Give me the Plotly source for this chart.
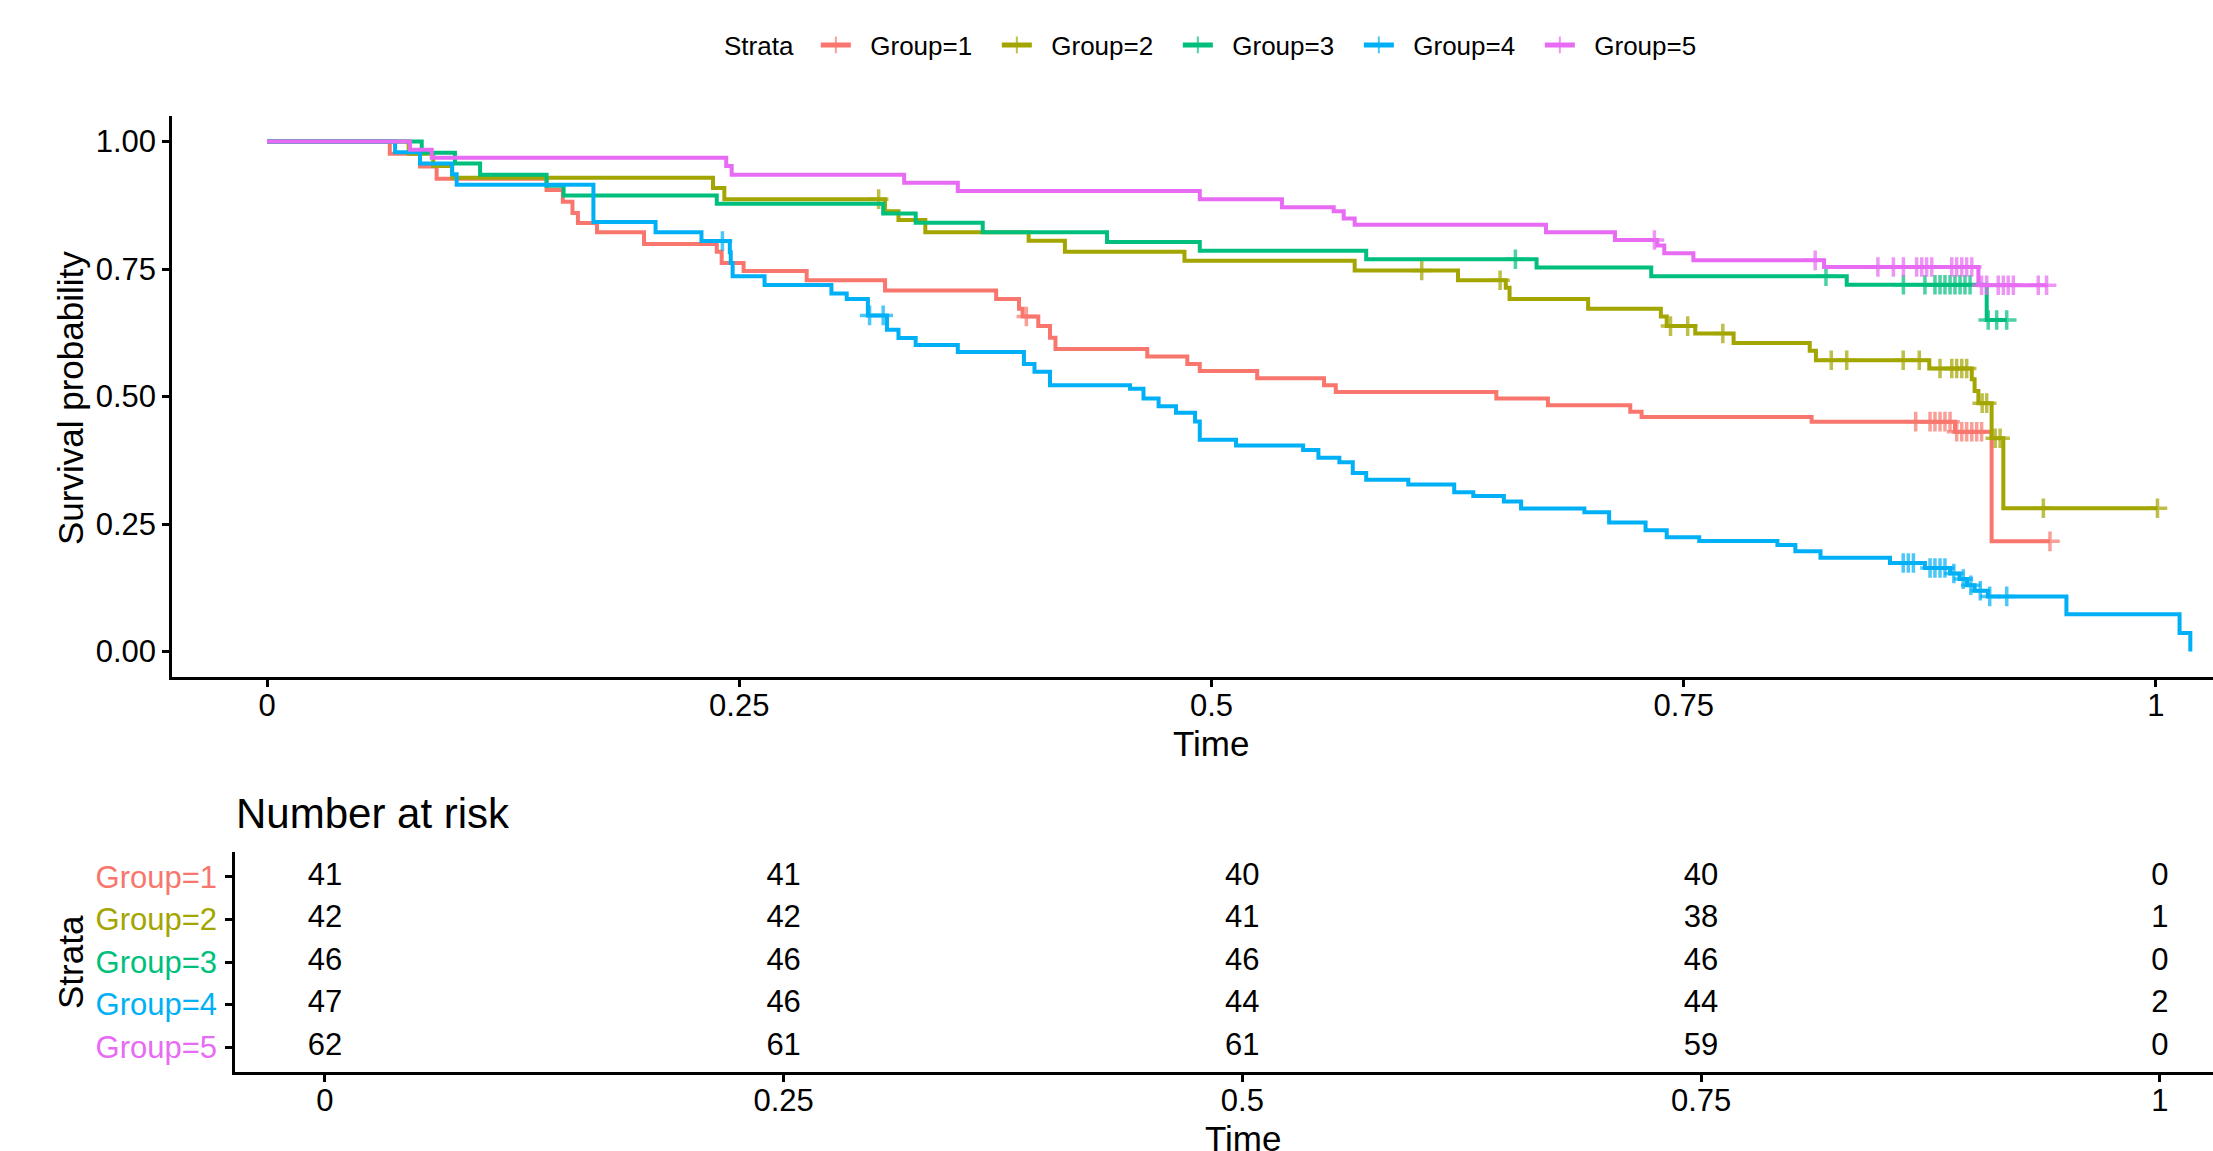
import plotly.graph_objects as go

# ---------------- data ----------------
groups = ["Group=1", "Group=2", "Group=3", "Group=4", "Group=5"]
colors = ["#F8766D", "#A3A500", "#00BF7D", "#00B0F6", "#E76BF3"]

# Kaplan-Meier step curves: event times and survival after each step
g1_times = [0.065, 0.081, 0.0898, 0.148, 0.1566, 0.1617, 0.1646, 0.1747, 0.1996, 0.2381, 0.2407,
            0.2523, 0.2857, 0.3272, 0.386, 0.3981, 0.400, 0.4083, 0.4145, 0.4174, 0.466, 0.4872,
            0.4938, 0.5242, 0.5596, 0.5658, 0.6508, 0.6781, 0.7217, 0.7277, 0.8177, 0.8936, 0.9130]
g1_surv = [0.976, 0.951, 0.927, 0.905, 0.882, 0.860, 0.840, 0.822, 0.799, 0.784, 0.762,
           0.746, 0.728, 0.708, 0.691, 0.672, 0.657, 0.638, 0.615, 0.593, 0.5785, 0.5636,
           0.550, 0.536, 0.522, 0.509, 0.496, 0.483, 0.470, 0.460, 0.4507, 0.431, 0.216]
g1_cens = [0.402, 0.8728, 0.8804, 0.8830, 0.8857, 0.8883, 0.8910, 0.8945, 0.8972, 0.8998,
           0.9025, 0.9051, 0.9077, 0.9439]

g2_times = [0.075, 0.088, 0.098, 0.2361, 0.2421, 0.3272, 0.3343, 0.3485, 0.4032, 0.4224, 0.4857,
            0.5758, 0.6305, 0.6558, 0.6578, 0.6994, 0.7379, 0.741, 0.7561, 0.7764, 0.8167, 0.8200,
            0.8800, 0.9025, 0.9040, 0.9060, 0.9130, 0.9192]
g2_surv = [0.976, 0.952, 0.929, 0.909, 0.887, 0.863, 0.846, 0.822, 0.8055, 0.784, 0.766,
           0.747, 0.728, 0.713, 0.691, 0.672, 0.657, 0.638, 0.6235, 0.6047, 0.5897, 0.571,
           0.555, 0.534, 0.511, 0.487, 0.418, 0.281]
g2_cens = [0.3238, 0.6113, 0.6528, 0.7430, 0.7521, 0.7707, 0.8281, 0.8363, 0.8662, 0.8747,
           0.8857, 0.8919, 0.8945, 0.8972, 0.8998, 0.9080, 0.9104, 0.9149, 0.9175, 0.9404, 1.0008]

g3_times = [0.0819, 0.0995, 0.1128, 0.148, 0.157, 0.2381, 0.3262, 0.3434, 0.3789, 0.4447, 0.4938,
            0.5819, 0.6721, 0.7328, 0.8363, 0.9104]
g3_surv = [0.978, 0.957, 0.935, 0.913, 0.894, 0.878, 0.859, 0.8405, 0.822, 0.803, 0.786,
           0.769, 0.753, 0.736, 0.719, 0.650]
g3_cens = [0.6609, 0.8253, 0.8663, 0.8777, 0.8830, 0.8857, 0.8883, 0.8910, 0.8936, 0.8963,
           0.8989, 0.9016, 0.9112, 0.9157, 0.9210]

g4_times = [0.0678, 0.081, 0.098, 0.1004, 0.1728, 0.2057, 0.2300, 0.2450, 0.2455, 0.2465, 0.2634,
            0.2988, 0.3069, 0.3181, 0.3282, 0.3343, 0.3434, 0.3657, 0.4007, 0.4063, 0.4145, 0.4569,
            0.464, 0.472, 0.4812, 0.4913, 0.4938, 0.513, 0.5485, 0.5566, 0.5677, 0.5748, 0.5819,
            0.6042, 0.6285, 0.6386, 0.6548, 0.6639, 0.6974, 0.7105, 0.7298, 0.741, 0.7582, 0.7996,
            0.8091, 0.8224, 0.8592, 0.8777, 0.8910, 0.8960, 0.9000, 0.9040, 0.9110, 0.9526,
            1.0125, 1.0182]
g4_surv = [0.979, 0.957, 0.936, 0.915, 0.842, 0.822, 0.805, 0.783, 0.762, 0.736, 0.7186,
           0.702, 0.691, 0.659, 0.631, 0.6145, 0.601, 0.5875, 0.5636, 0.5485, 0.5223, 0.515,
           0.496, 0.481, 0.468, 0.451, 0.4153, 0.404, 0.395, 0.380, 0.371, 0.350, 0.3366,
           0.3276, 0.3125, 0.305, 0.294, 0.2804, 0.273, 0.2527, 0.2377, 0.2242, 0.2167, 0.209,
           0.1965, 0.1838, 0.1735, 0.1637, 0.153, 0.142, 0.130, 0.119, 0.108, 0.073,
           0.0365, 0.0]
g4_cens = [0.2411, 0.3190, 0.3262, 0.8662, 0.8689, 0.8716, 0.8804, 0.8830, 0.8857, 0.8883,
           0.8930, 0.8980, 0.9020, 0.9070, 0.9120, 0.9210]

g5_times = [0.0757, 0.0872, 0.2431, 0.2460, 0.3373, 0.3657, 0.4938, 0.5373, 0.5647, 0.5700,
            0.5758, 0.6771, 0.7136, 0.7360, 0.7397, 0.7551, 0.8243, 0.9060]
g5_surv = [0.984, 0.968, 0.952, 0.935, 0.919, 0.903, 0.887, 0.871, 0.863, 0.849,
           0.837, 0.822, 0.807, 0.796, 0.781, 0.767, 0.754, 0.718]
g5_cens = [0.7345, 0.8196, 0.8528, 0.8610, 0.8663, 0.8733, 0.8760, 0.8786, 0.8813, 0.8919,
           0.8945, 0.8972, 0.8998, 0.9025, 0.9077, 0.9104, 0.9165, 0.9192, 0.9218, 0.9245,
           0.9377, 0.9421]

step_times = [g1_times, g2_times, g3_times, g4_times, g5_times]
step_surv = [g1_surv, g2_surv, g3_surv, g4_surv, g5_surv]
censor_times = [g1_cens, g2_cens, g3_cens, g4_cens, g5_cens]

# Number at risk table
risk_times = [0, 0.25, 0.5, 0.75, 1]
risk_g1 = [41, 41, 40, 40, 0]
risk_g2 = [42, 42, 41, 38, 1]
risk_g3 = [46, 46, 46, 46, 0]
risk_g4 = [47, 46, 44, 44, 2]
risk_g5 = [62, 61, 61, 59, 0]
risk_counts = [risk_g1, risk_g2, risk_g3, risk_g4, risk_g5]

x_tickvals = [0, 0.25, 0.5, 0.75, 1]
x_ticktext = ["0", "0.25", "0.5", "0.75", "1"]
y_tickvals = [0, 0.25, 0.5, 0.75, 1]
y_ticktext = ["0.00", "0.25", "0.50", "0.75", "1.00"]

# ---------------- figure ----------------
W, H = 2213, 1151
FONT = "Liberation Sans, Arial, Helvetica, sans-serif"
NBSP = "\u00a0"


def surv_at(times, surv, t):
    val = 1.0
    for ti, si in zip(times, surv):
        if ti <= t:
            val = si
        else:
            break
    return val


fig = go.Figure()

CENSOR_SIZE = 14
for name, col, tt, ss, cc in zip(groups, colors, step_times, step_surv, censor_times):
    pts = [(0.0, 1.0, 0, 0)]
    pts += [(t, s, 0, 0) for t, s in zip(tt, ss)]
    pts += [(c, surv_at(tt, ss, c), CENSOR_SIZE, 1) for c in cc]
    pts.sort(key=lambda p: (p[0], p[3]))
    fig.add_trace(go.Scatter(
        x=[p[0] for p in pts], y=[p[1] for p in pts],
        mode="lines+markers", name=NBSP * 2 + name,
        line=dict(color=col, width=4, shape="hv"),
        marker=dict(symbol="cross-thin", size=[p[2] for p in pts],
                    color=col, line=dict(color=col, width=3.5)),
        xaxis="x", yaxis="y", hoverinfo="x+y+name",
    ))

for name, cnt in zip(groups, risk_counts):
    fig.add_trace(go.Scatter(
        x=risk_times, y=[name] * len(risk_times), text=[str(v) for v in cnt],
        mode="text", textfont=dict(size=31, color="black", family=FONT),
        showlegend=False, xaxis="x2", yaxis="y2", cliponaxis=False, hoverinfo="skip",
    ))


def px_x(p):
    return p / W


def px_y(p):
    return 1 - p / H


axis_common = dict(showline=True, linecolor="black", linewidth=2.5, ticks="outside",
                   ticklen=7, tickwidth=2.5, tickcolor="black", showgrid=False,
                   zeroline=False, tickfont=dict(size=31, color="black", family=FONT))

fig.update_layout(
    width=W, height=H, margin=dict(l=0, r=0, t=0, b=0),
    paper_bgcolor="white", plot_bgcolor="white",
    font=dict(family=FONT, color="black"),
    xaxis=dict(domain=[px_x(172), 1], range=[-0.0503, 1.0302], anchor="y",
               tickvals=x_tickvals, ticktext=x_ticktext, ticklabelstandoff=-8, **axis_common),
    yaxis=dict(domain=[px_y(677), px_y(116)], range=[-0.05, 1.05], anchor="x",
               tickvals=y_tickvals, ticktext=y_ticktext, **axis_common),
    xaxis2=dict(domain=[px_x(235), 1], range=[-0.049, 1.029], anchor="y2",
                tickvals=x_tickvals, ticktext=x_ticktext, ticklabelstandoff=-8, **axis_common),
    yaxis2=dict(domain=[px_y(1072), px_y(852)], type="category",
                categoryorder="array", categoryarray=groups, range=[4.588, -0.588],
                anchor="x2", tickvals=groups, ticklabelstandoff=2,
                ticktext=[f'<span style="color:{c}">{g}</span>' for g, c in zip(groups, colors)],
                **axis_common),
    legend=dict(orientation="h", x=px_x(722), xanchor="left", y=px_y(45), yanchor="middle",
                title=dict(text="Strata" + NBSP * 2, font=dict(size=26, family=FONT)),
                font=dict(size=26, family=FONT, color="black"), itemsizing="constant",
                itemwidth=30, entrywidth=136, entrywidthmode="pixels",
                bgcolor="rgba(0,0,0,0)"),
    showlegend=True,
    annotations=[
        dict(text="Number at risk", x=px_x(234), y=px_y(813), xref="paper", yref="paper",
             xanchor="left", yanchor="middle", showarrow=False, font=dict(size=42, family=FONT)),
        dict(text="Time", x=px_x(1211), y=px_y(743), xref="paper", yref="paper",
             xanchor="center", yanchor="middle", showarrow=False, font=dict(size=35, family=FONT)),
        dict(text="Time", x=px_x(1243), y=px_y(1138), xref="paper", yref="paper",
             xanchor="center", yanchor="middle", showarrow=False, font=dict(size=35, family=FONT)),
        dict(text="Survival probability", x=px_x(70), y=px_y(398), xref="paper", yref="paper",
             xanchor="center", yanchor="middle", textangle=-90, showarrow=False,
             font=dict(size=35, family=FONT)),
        dict(text="Strata", x=px_x(70), y=px_y(962), xref="paper", yref="paper",
             xanchor="center", yanchor="middle", textangle=-90, showarrow=False,
             font=dict(size=35, family=FONT)),
    ],
)

fig.write_html("out.html")
